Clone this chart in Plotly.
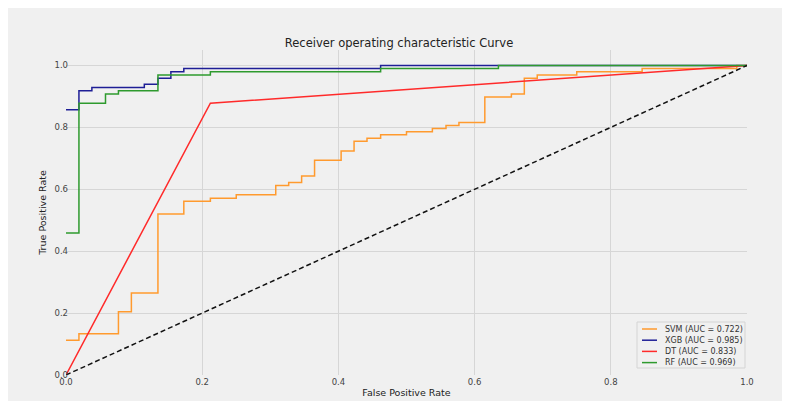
import plotly.graph_objects as go

# ---- data ----
svm_fpr = [0.0, 0.019, 0.019, 0.077, 0.077, 0.096, 0.096, 0.135, 0.135, 0.173, 0.173, 0.212, 0.212,
           0.250, 0.250, 0.308, 0.308, 0.327, 0.327, 0.346, 0.346, 0.365, 0.365, 0.404, 0.404,
           0.423, 0.423, 0.442, 0.442, 0.462, 0.462, 0.500, 0.500, 0.538, 0.538, 0.558, 0.558,
           0.577, 0.577, 0.615, 0.615, 0.654, 0.654, 0.673, 0.673, 0.692, 0.692, 0.750, 0.750,
           0.846, 0.846, 0.985, 0.985, 1.0]
svm_tpr = [0.112, 0.112, 0.133, 0.133, 0.204, 0.204, 0.265, 0.265, 0.520, 0.520, 0.561, 0.561, 0.571,
           0.571, 0.582, 0.582, 0.612, 0.612, 0.622, 0.622, 0.643, 0.643, 0.694, 0.694, 0.724,
           0.724, 0.755, 0.755, 0.765, 0.765, 0.776, 0.776, 0.786, 0.786, 0.796, 0.796, 0.806,
           0.806, 0.816, 0.816, 0.898, 0.898, 0.908, 0.908, 0.959, 0.959, 0.969, 0.969, 0.980,
           0.980, 0.990, 0.990, 1.0, 1.0]

xgb_fpr = [0.0, 0.019, 0.019, 0.038, 0.038, 0.115, 0.115, 0.135, 0.135, 0.154, 0.154, 0.173, 0.173,
           0.462, 0.462, 1.0]
xgb_tpr = [0.857, 0.857, 0.918, 0.918, 0.929, 0.929, 0.939, 0.939, 0.959, 0.959, 0.980, 0.980, 0.990,
           0.990, 1.0, 1.0]

dt_fpr = [0.0, 0.212, 1.0]
dt_tpr = [0.0, 0.878, 1.0]

rf_fpr = [0.0, 0.019, 0.019, 0.058, 0.058, 0.077, 0.077, 0.135, 0.135, 0.212, 0.212, 0.462, 0.462,
          0.635, 0.635, 1.0]
rf_tpr = [0.459, 0.459, 0.878, 0.878, 0.908, 0.908, 0.918, 0.918, 0.969, 0.969, 0.980, 0.980, 0.990,
          0.990, 1.0, 1.0]

chance = [0.0, 1.0]

names = ["SVM (AUC = 0.722)", "XGB (AUC = 0.985)", "DT (AUC = 0.833)", "RF (AUC = 0.969)"]
colors = ["#ff9a2e", "#1e1e96", "#ff2a2a", "#2e9a2e"]

x_ticks = [0.0, 0.2, 0.4, 0.6, 0.8, 1.0]
x_ticktext = ["0.0", "0.2", "0.4", "0.6", "0.8", "1.0"]
y_ticks = [0.0, 0.2, 0.4, 0.6, 0.8, 1.0]
y_ticktext = ["0.0", "0.2", "0.4", "0.6", "0.8", "1.0"]

FONT = "DejaVu Sans"
BG = "#f0f0f0"
OFF = 8  # page body margin in the browser
W, H = 790 - OFF, 404 - OFF
ML, MR, MT, MB = 66 - OFF, 43, 50 - OFF, 29
PW, PH = W - ML - MR, H - MT - MB


def px_x(p):  # page pixel -> paper x
    return (p - OFF - ML) / PW


def px_y(p):  # page pixel -> paper y
    return (H - MB - (p - OFF)) / PH


fig = go.Figure()
series = [(svm_fpr, svm_tpr), (xgb_fpr, xgb_tpr), (dt_fpr, dt_tpr), (rf_fpr, rf_tpr)]
for (fx, ty), nm, col in zip(series, names, colors):
    fig.add_trace(go.Scatter(x=fx, y=ty, mode="lines", name=nm,
                             line=dict(color=col, width=1.5)))
fig.add_trace(go.Scatter(x=chance, y=chance, mode="lines", showlegend=False,
                         line=dict(color="#111111", width=1.5, dash="5px,3px")))

# figure background with thin white border on the right / bottom
fig.add_shape(type="rect", xref="paper", yref="paper",
              x0=px_x(OFF), x1=px_x(787), y0=px_y(401), y1=px_y(OFF),
              fillcolor=BG, line=dict(width=0), layer="below")

# compact legend box (drawn like matplotlib's legend)
fig.add_shape(type="rect", xref="paper", yref="paper",
              x0=px_x(637), x1=px_x(745), y0=px_y(368), y1=px_y(322),
              fillcolor=BG, line=dict(color="#d4d4d4", width=1), layer="above")
entry_y = [329, 340.2, 351.4, 362.6]
for nm, col, ey in zip(names, colors, entry_y):
    fig.add_shape(type="line", xref="paper", yref="paper",
                  x0=px_x(642), x1=px_x(657), y0=px_y(ey), y1=px_y(ey),
                  line=dict(color=col, width=1.5), layer="above")
    fig.add_annotation(text=nm, xref="paper", yref="paper", x=px_x(663), y=px_y(ey),
                       xanchor="left", yanchor="middle", showarrow=False,
                       font=dict(family=FONT, size=8, color="#333333"))

fig.update_layout(
    width=W, height=H,
    margin=dict(l=ML, r=MR, t=MT, b=MB),
    paper_bgcolor="white", plot_bgcolor=BG,
    font=dict(family=FONT, size=9, color="#333333"),
    title=dict(text="Receiver operating characteristic Curve", x=0.5, xanchor="center",
               y=1 - (43 - OFF) / H, yanchor="middle",
               font=dict(family=FONT, size=11.5, color="#222222")),
    showlegend=False,
)
fig.update_xaxes(range=[0, 1], tickvals=x_ticks, ticktext=x_ticktext,
                 showgrid=True, gridcolor="#d6d6d6", gridwidth=1,
                 zeroline=False, showline=False, ticks="", automargin=False,
                 tickfont=dict(family=FONT, size=8.5, color="#444444"),
                 title=dict(text="False Positive Rate", standoff=3,
                            font=dict(family=FONT, size=9.5, color="#222222")))
fig.update_yaxes(range=[0, 1.05], tickvals=y_ticks, ticktext=y_ticktext,
                 showgrid=True, gridcolor="#d6d6d6", gridwidth=1,
                 zeroline=False, showline=False, ticks="", automargin=False,
                 ticklabelstandoff=-3,
                 tickfont=dict(family=FONT, size=8.5, color="#444444"),
                 title=dict(text="True Positive Rate", standoff=6,
                            font=dict(family=FONT, size=9.5, color="#222222")))

fig.write_html("out.html")
